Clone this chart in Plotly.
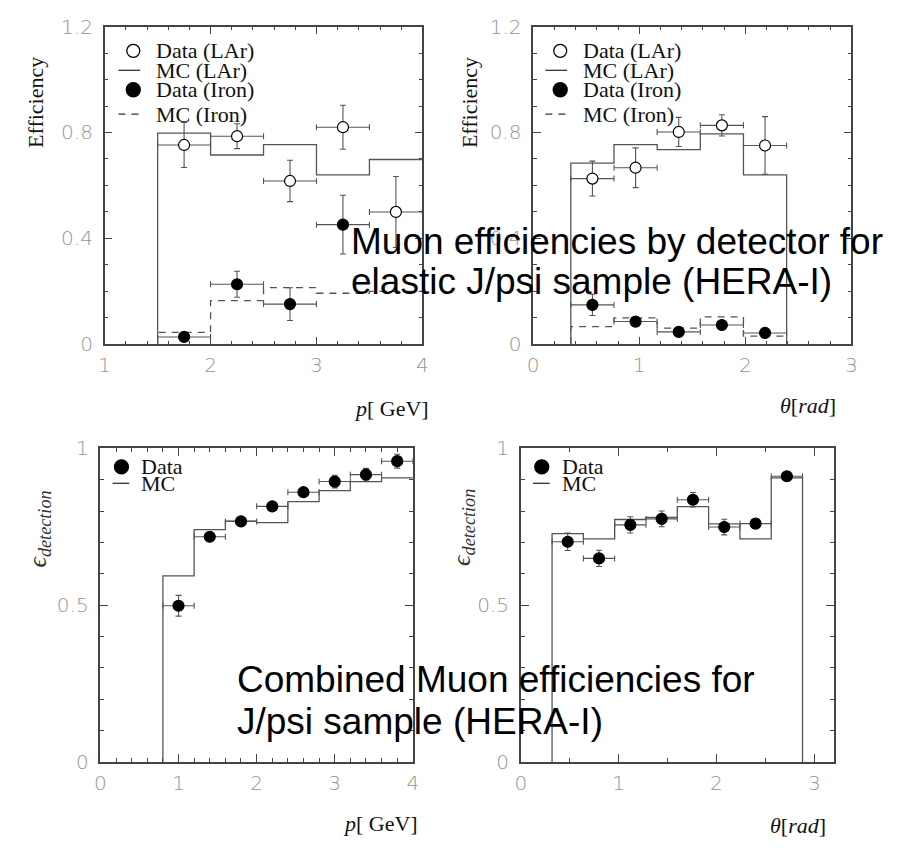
import plotly.graph_objects as go

W, H = 902, 850

# ---------------- data ----------------
# Top-left: efficiency vs p [GeV]
tl_edges = [1.5, 2.0, 2.5, 3.0, 3.5, 4.0]
tl_mc_lar = [0.798, 0.715, 0.754, 0.640, 0.698]
tl_mc_iron = [0.045, 0.165, 0.214, 0.193, 0.200]
tl_data_lar = [0.753, 0.786, 0.617, 0.820, 0.500]
tl_data_lar_err = [0.085, 0.047, 0.078, 0.083, 0.134]
tl_data_iron = [0.028, 0.227, 0.152, 0.452]
tl_data_iron_err = [0.008, 0.049, 0.062, 0.111]

# Top-right: efficiency vs theta [rad]
tr_edges = [0.355, 0.762, 1.169, 1.576, 1.983, 2.39]
tr_mc_lar = [0.684, 0.754, 0.735, 0.795, 0.640]
tr_mc_iron = [0.067, 0.100, 0.061, 0.104, 0.031]
tr_data_lar = [0.626, 0.667, 0.802, 0.827, 0.751]
tr_data_lar_err = [0.066, 0.075, 0.055, 0.040, 0.109]
tr_data_iron = [0.149, 0.086, 0.047, 0.073, 0.043]
tr_data_iron_err = [0.040, 0.010, 0.008, 0.010, 0.008]

# Bottom-left: combined efficiency vs p [GeV]
bl_edges = [0.8, 1.2, 1.6, 2.0, 2.4, 2.8, 3.2, 3.6, 4.0]
bl_mc = [0.593, 0.741, 0.768, 0.763, 0.830, 0.865, 0.894, 0.906]
bl_data = [0.498, 0.718, 0.767, 0.815, 0.860, 0.894, 0.916, 0.959]
bl_data_err = [0.033, 0.010, 0.010, 0.010, 0.010, 0.020, 0.020, 0.022]

# Bottom-right: combined efficiency vs theta [rad]
br_edges = [0.32, 0.64, 0.96, 1.28, 1.60, 1.92, 2.24, 2.56, 2.88]
br_mc = [0.728, 0.711, 0.773, 0.780, 0.814, 0.759, 0.711, 0.906]
br_data = [0.702, 0.649, 0.756, 0.775, 0.836, 0.749, 0.760, 0.911]
br_data_err = [0.028, 0.026, 0.026, 0.025, 0.023, 0.025, 0.010, 0.010]

# ---------------- helpers ----------------
def px(x):
    return x / W

def py(y):
    return 1 - y / H

def centers(edges):
    return [(a + b) / 2 for a, b in zip(edges[:-1], edges[1:])]

def halfw(edges):
    return [(b - a) / 2 for a, b in zip(edges[:-1], edges[1:])]

def step(edges, vals, close=False):
    n = len(vals)
    xs = [edges[0]] + list(edges[:n]) + [edges[n]]
    ys = [0] + list(vals) + [vals[-1]]
    if close:
        xs.append(edges[n])
        ys.append(0)
    return xs, ys

LINEC = "#555555"
ERRC = "#555555"
DASH = "7px,6px"

fig = go.Figure()

def add_hist(edges, vals, xa, ya, dash="solid", close=False):
    xs, ys = step(edges, vals, close)
    fig.add_trace(go.Scatter(x=xs, y=ys, mode="lines", line_shape="hv",
                             line=dict(color=LINEC, width=1.3, dash=dash),
                             xaxis=xa, yaxis=ya, showlegend=False, hoverinfo="skip"))

def add_pts(xs, ys, yerr, xerr, xa, ya, filled=True):
    fig.add_trace(go.Scatter(
        x=xs, y=ys, mode="markers",
        marker=dict(size=11, color="black" if filled else "white", symbol="circle",
                    line=dict(color="black", width=1.2)),
        error_y=dict(type="data", array=yerr, color=ERRC, thickness=1.1, width=3),
        error_x=dict(type="data", array=xerr, color=ERRC, thickness=1.1, width=3),
        xaxis=xa, yaxis=ya, showlegend=False, cliponaxis=False))

# Top-left
add_hist(tl_edges, tl_mc_lar, "x", "y")
add_hist(tl_edges, tl_mc_iron, "x", "y", dash=DASH)
tlc = centers(tl_edges)
add_pts(tlc, tl_data_lar, tl_data_lar_err, halfw(tl_edges), "x", "y", filled=False)
add_pts(tlc[:len(tl_data_iron)], tl_data_iron, tl_data_iron_err,
        halfw(tl_edges)[:len(tl_data_iron)], "x", "y", filled=True)

# Top-right
add_hist(tr_edges, tr_mc_lar, "x2", "y2", close=True)
add_hist(tr_edges, tr_mc_iron, "x2", "y2", dash=DASH)
trc = centers(tr_edges)
add_pts(trc, tr_data_lar, tr_data_lar_err, halfw(tr_edges), "x2", "y2", filled=False)
add_pts(trc, tr_data_iron, tr_data_iron_err, halfw(tr_edges), "x2", "y2", filled=True)

# Bottom-left
add_hist(bl_edges, bl_mc, "x3", "y3")
add_pts(centers(bl_edges), bl_data, bl_data_err, halfw(bl_edges), "x3", "y3")

# Bottom-right
add_hist(br_edges, br_mc, "x4", "y4", close=True)
add_pts(centers(br_edges), br_data, br_data_err, halfw(br_edges), "x4", "y4")

# ---------------- axes ----------------
tickfont = dict(family="DejaVu Sans", size=20, color="#959595", weight=200)

def ax(dom, rng, dtick, minor, anchor, standoff):
    return dict(domain=dom, range=rng, dtick=dtick, tick0=0, showline=True,
                linecolor="#444", linewidth=1.5, mirror="ticks", ticks="inside",
                ticklen=8, tickcolor="#444", tickwidth=1.2,
                minor=dict(dtick=minor, ticks="inside", ticklen=4, tickcolor="#444", tickwidth=1.1),
                showgrid=False, zeroline=False, tickfont=tickfont, anchor=anchor,
                fixedrange=True, ticklabelstandoff=standoff)

top_y = [py(342), py(15)]
bot_y = [py(771.7), py(449)]

fig.update_layout(
    width=W, height=H, margin=dict(l=0, r=0, t=0, b=0),
    paper_bgcolor="white", plot_bgcolor="white", showlegend=False,
    xaxis=ax([px(100), px(422)], [1, 4], 1, 0.2, "y", 2),
    yaxis=ax(top_y, [0, 1.2], 0.4, 0.1, "x", 6),
    xaxis2=ax([px(534.3), px(856.7)], [0, 3], 1, 0.2, "y2", 2),
    yaxis2=ax(top_y, [0, 1.2], 0.4, 0.1, "x2", 6),
    xaxis3=ax([px(95.7), px(412.3)], [0, 4], 1, 0.2, "y3", 2),
    yaxis3=ax(bot_y, [0, 1], 0.5, 0.1, "x3", 6),
    xaxis4=ax([px(521.7), px(839)], [0, 3.2], 1, 0.5, "y4", 2),
    yaxis4=ax(bot_y, [0, 1], 0.5, 0.1, "x4", 6),
)

# ---------------- legends, titles, overlay text ----------------
serif = dict(family="Liberation Serif", size=22, color="#111")
ann = []
shapes = []

def text(x, y, s, font=serif, xanchor="left", yanchor="middle", angle=0):
    ann.append(dict(x=px(x), y=py(y), xref="paper", yref="paper", text=s, showarrow=False,
                    xanchor=xanchor, yanchor=yanchor, font=font, textangle=angle))

def circ(cx, cy, r, filled):
    shapes.append(dict(type="circle", xref="paper", yref="paper", xsizemode="pixel", ysizemode="pixel",
                       xanchor=px(cx), yanchor=py(cy), x0=-r, x1=r, y0=-r, y1=r,
                       fillcolor="black" if filled else "white", line=dict(color="black", width=1.3)))

def hline(x0, x1, y, dash="solid"):
    shapes.append(dict(type="line", xref="paper", yref="paper", x0=px(x0), x1=px(x1), y0=py(y), y1=py(y),
                       line=dict(color="#333", width=1.3, dash=dash)))

for ox in [0, 432.7]:
    circ(129 + ox, 40, 6.5, False)
    hline(114 + ox, 136 + ox, 60)
    circ(129 + ox, 80, 7, True)
    hline(114 + ox, 136 + ox, 105, dash=DASH)
    text(150 + ox, 40, "Data (LAr)")
    text(150 + ox, 60, "MC (LAr)")
    text(150 + ox, 80, "Data (Iron)")
    text(150 + ox, 105, "MC (Iron)")

for ox in [0, 426]:
    circ(117 + ox, 468, 7, True)
    hline(108 + ox, 125 + ox, 485)
    text(135 + ox, 468, "Data")
    text(135 + ox, 485, "MC")

# axis titles
eps = dict(family="Liberation Serif", size=26, color="#333")
text(30, 93, "Efficiency", xanchor="center", angle=-90)
text(470, 93, "Efficiency", xanchor="center", angle=-90)
text(33, 532, "<i>ϵ</i><sub><i>detection</i></sub>", font=eps, xanchor="center", angle=-90)
text(463, 530, "<i>ϵ</i><sub><i>detection</i></sub>", font=eps, xanchor="center", angle=-90)
text(391, 408, "<i>p</i>[ GeV]", xanchor="center")
text(380, 835, "<i>p</i>[ GeV]", xanchor="center")
text(813, 405, "<i>θ</i>[<i>rad</i>]", xanchor="center")
text(803, 837, "<i>θ</i>[<i>rad</i>]", xanchor="center")

# overlay captions
big = dict(family="Liberation Sans", size=37, color="black")
text(348, 251 + 8, "Muon efficiencies by detector for", font=big, yanchor="bottom")
text(348, 292 + 8, "elastic J/psi sample (HERA-I)", font=big, yanchor="bottom")
text(232, 702 + 8, "Combined Muon efficiencies for", font=big, yanchor="bottom")
text(232, 745 + 8, "J/psi sample (HERA-I)", font=big, yanchor="bottom")

fig.update_layout(annotations=ann, shapes=shapes)

fig.write_html("out.html")
